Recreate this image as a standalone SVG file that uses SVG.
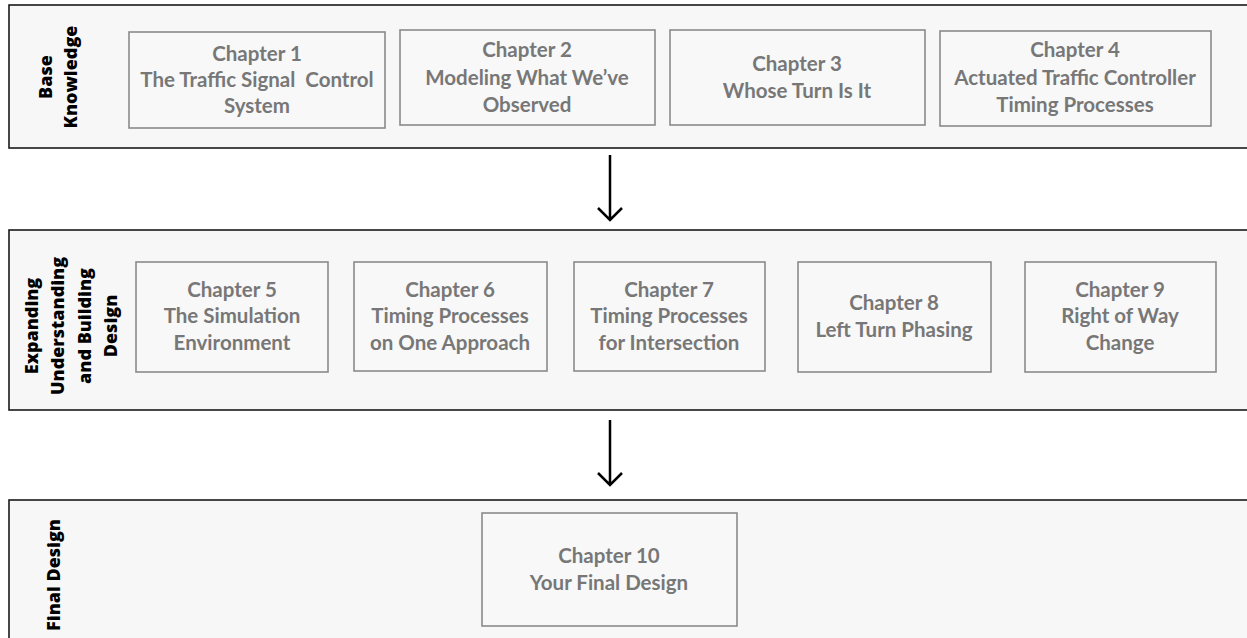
<svg xmlns="http://www.w3.org/2000/svg" width="1247" height="638" viewBox="0 0 1247 638">
<style>
.band{fill:#f7f7f7;stroke:#1a1a1a;stroke-width:1.6}
.box{fill:#f8f8f8;stroke:#8a8a8a;stroke-width:1.6}
.ch{font-family:Lato,"Open Sans",sans-serif;font-weight:bold;font-size:20.5px;fill:#777;text-anchor:middle;white-space:pre}
.lbl{font-family:"Open Sans","DejaVu Sans",sans-serif;font-weight:800;font-size:18px;fill:#000;text-anchor:middle}
.arr{fill:none;stroke:#000;stroke-width:2.5}
</style>
<rect width="1247" height="638" fill="#fff"/>
<g id="band1">
<rect class="band" x="9" y="5" width="1250" height="143"/>
<text class="lbl" transform="translate(52,77) rotate(-90)" font-size="19.5">Base</text>
<text class="lbl" transform="translate(77,77) rotate(-90)" font-size="19.5">Knowledge</text>
</g>
<g id="band2">
<rect class="band" x="9" y="230" width="1250" height="180"/>
<text class="lbl" transform="translate(38,326) rotate(-90)">Expanding</text>
<text class="lbl" transform="translate(64,326) rotate(-90)">Understanding</text>
<text class="lbl" transform="translate(91,326) rotate(-90)">and Building</text>
<text class="lbl" transform="translate(117,326) rotate(-90)">Design</text>
</g>
<g id="band3">
<rect class="band" x="9" y="500" width="1250" height="150"/>
<text class="lbl" transform="translate(60,575) rotate(-90)">Final Design</text>
</g>
<g id="ch1"><rect class="box" x="129" y="32" width="256" height="96"/>
<text class="ch" x="257" y="61">Chapter 1</text><text class="ch" x="257" y="87" xml:space="preserve">The Traffic Signal  Control</text><text class="ch" x="257" y="113">System</text></g>
<g id="ch2"><rect class="box" x="400" y="30" width="255" height="95"/>
<text class="ch" x="527" y="57">Chapter 2</text><text class="ch" x="527" y="85">Modeling What We’ve</text><text class="ch" x="527" y="112">Observed</text></g>
<g id="ch3"><rect class="box" x="670" y="30" width="255" height="95"/>
<text class="ch" x="797" y="71">Chapter 3</text><text class="ch" x="797" y="98">Whose Turn Is It</text></g>
<g id="ch4"><rect class="box" x="940" y="31" width="271" height="95"/>
<text class="ch" x="1075" y="57">Chapter 4</text><text class="ch" x="1075" y="85">Actuated Traffic Controller</text><text class="ch" x="1075" y="112">Timing Processes</text></g>
<g id="ch5"><rect class="box" x="136" y="262" width="192" height="110"/>
<text class="ch" x="232" y="297">Chapter 5</text><text class="ch" x="232" y="323">The Simulation</text><text class="ch" x="232" y="350">Environment</text></g>
<g id="ch6"><rect class="box" x="354" y="262" width="193" height="109"/>
<text class="ch" x="450" y="297">Chapter 6</text><text class="ch" x="450" y="323">Timing Processes</text><text class="ch" x="450" y="350">on One Approach</text></g>
<g id="ch7"><rect class="box" x="574" y="262" width="191" height="109"/>
<text class="ch" x="669" y="297">Chapter 7</text><text class="ch" x="669" y="323">Timing Processes</text><text class="ch" x="669" y="350">for Intersection</text></g>
<g id="ch8"><rect class="box" x="798" y="262" width="193" height="110"/>
<text class="ch" x="894" y="310">Chapter 8</text><text class="ch" x="894" y="337">Left Turn Phasing</text></g>
<g id="ch9"><rect class="box" x="1025" y="262" width="191" height="110"/>
<text class="ch" x="1120" y="297">Chapter 9</text><text class="ch" x="1120" y="323">Right of Way</text><text class="ch" x="1120" y="350">Change</text></g>
<g id="ch10"><rect class="box" x="482" y="513" width="255" height="113"/>
<text class="ch" x="609" y="563">Chapter 10</text><text class="ch" x="609" y="590">Your Final Design</text></g>
<g id="connectors">
<path class="arr" d="M610 155V220M598 208L610 220L622 208"/>
<path class="arr" d="M610 420V485M598 473L610 485L622 473"/>
</g>
</svg>
